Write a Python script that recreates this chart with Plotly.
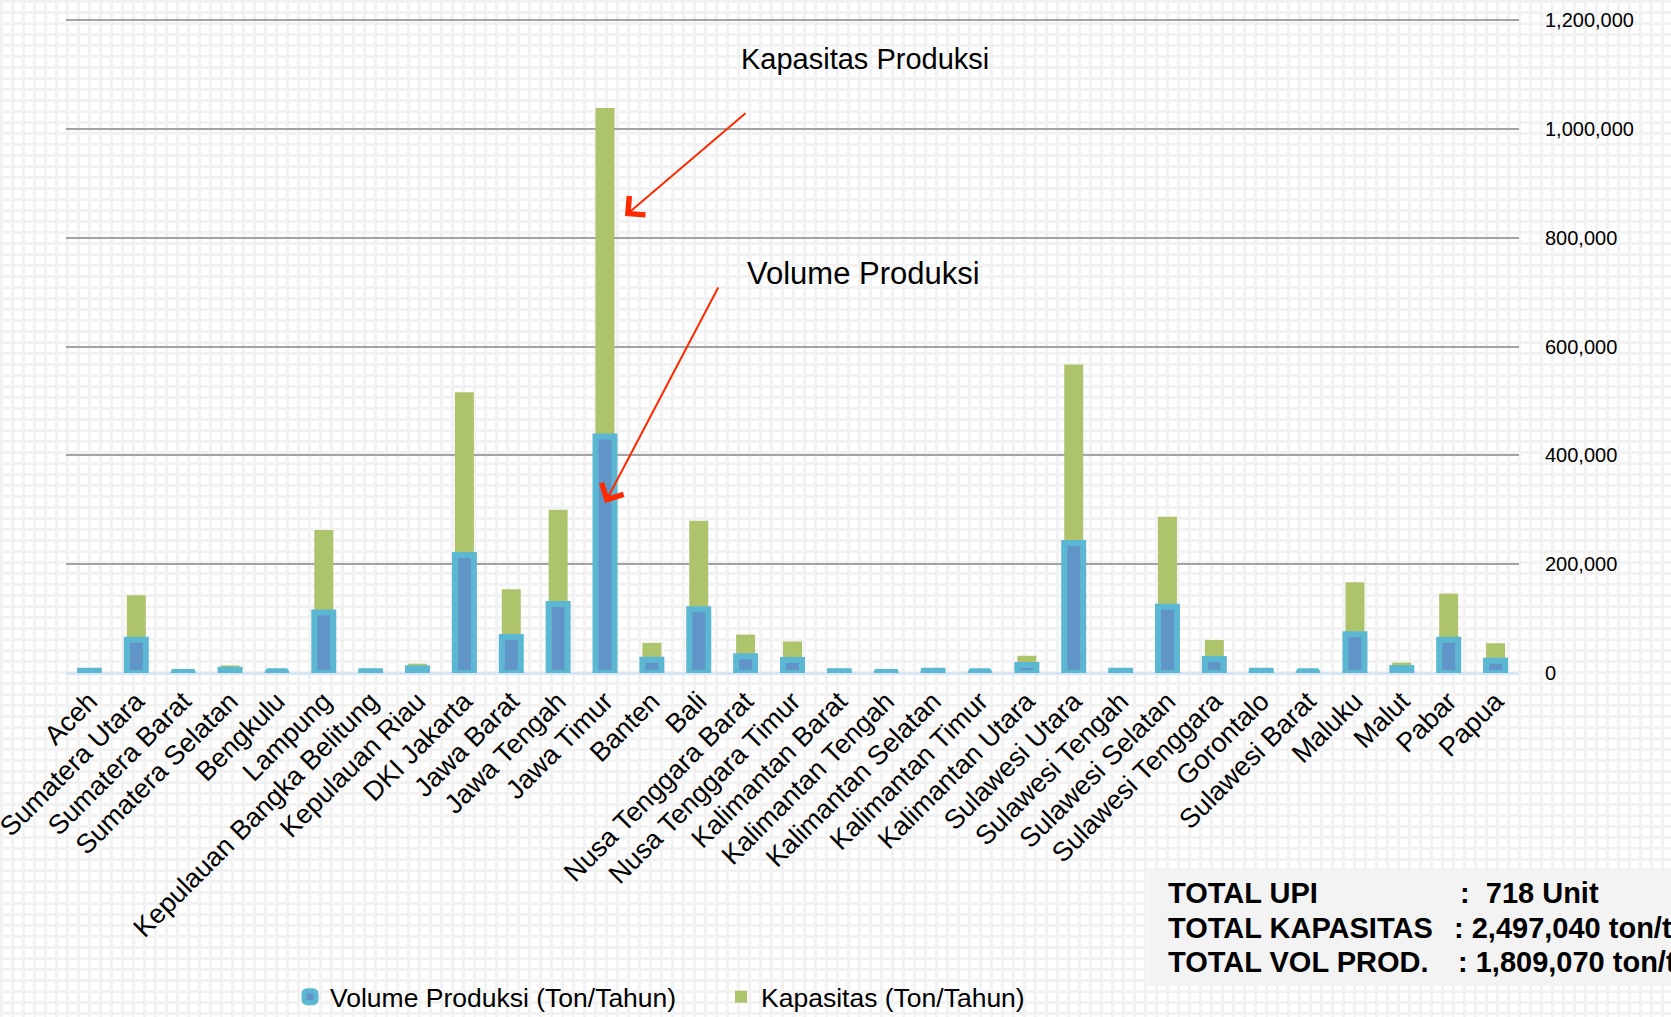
import base64
import plotly.graph_objects as go

provinces = [
    "Aceh", "Sumatera Utara", "Sumatera Barat", "Sumatera Selatan", "Bengkulu",
    "Lampung", "Kepulauan Bangka Belitung", "Kepulauan Riau", "DKI Jakarta",
    "Jawa Barat", "Jawa Tengah", "Jawa Timur", "Banten", "Bali",
    "Nusa Tenggara Barat", "Nusa Tenggara Timur", "Kalimantan Barat",
    "Kalimantan Tengah", "Kalimantan Selatan", "Kalimantan Timur",
    "Kalimantan Utara", "Sulawesi Utara", "Sulawesi Tengah", "Sulawesi Selatan",
    "Sulawesi Tenggara", "Gorontalo", "Sulawesi Barat", "Maluku", "Malut",
    "Pabar", "Papua",
]

volume = [4000, 61000, 2000, 6000, 3000, 111000, 3000, 8600, 217000, 66000,
          127000, 434500, 24500, 117000, 30600, 24000, 3000, 2000, 4000, 3000,
          14700, 239000, 4000, 122000, 25700, 4000, 3000, 71000, 9000, 61000,
          22700]

kapasitas = [5000, 82000, 3000, 8000, 1000, 152000, 5000, 8500, 299000, 88000,
             173000, 604000, 31000, 163000, 40000, 34000, 5000, 3000, 5000, 1000,
             17000, 328000, 5000, 165000, 35000, 5000, 1000, 96000, 10000, 85000,
             32000]

y_ticks = [0, 200000, 400000, 600000, 800000, 1000000, 1200000]

W, H = 1671, 1017
ML, MR, MT, MB = 66, 152, 18, 344
PW, PH = W - ML - MR, H - MT - MB

SANS = "Liberation Sans, Arial, sans-serif"


def px_x(x):
    return (x - ML) / PW


def px_y(y):
    return (H - MB - y) / PH


svg = (
    f"<svg xmlns='http://www.w3.org/2000/svg' width='{W}' height='{H}'>"
    "<defs><pattern id='p' width='11' height='11' patternUnits='userSpaceOnUse'>"
    "<rect width='11' height='11' fill='#ffffff'/>"
    "<rect x='0' y='0' width='3' height='11' fill='#f2f2f2'/>"
    "<rect x='0' y='0' width='11' height='3' fill='#f2f2f2'/>"
    "</pattern></defs>"
    "<rect width='100%' height='100%' fill='url(#p)'/></svg>"
)
svg_uri = "data:image/svg+xml;base64," + base64.b64encode(svg.encode()).decode()

fig = go.Figure()

fig.add_trace(go.Bar(
    x=provinces, y=kapasitas, base=volume,
    name="Kapasitas (Ton/Tahun)",
    marker=dict(color="#ADC46C", line=dict(width=0)),
    width=0.405, legendrank=2,
))

fig.add_trace(go.Bar(
    x=provinces, y=volume,
    name="Volume Produksi (Ton/Tahun)",
    marker=dict(color="#6195C8", line=dict(color="#5CB8D2", width=6), cornerradius=3),
    width=0.405, legendrank=1,
))

annotations = [
    dict(text="Kapasitas Produksi", x=px_x(865), y=px_y(59), xref="paper", yref="paper",
         xanchor="center", yanchor="middle",
         showarrow=False, font=dict(family=SANS, size=29, color="#000000")),
    dict(text="Volume Produksi", x=px_x(863), y=px_y(273), xref="paper", yref="paper",
         xanchor="center", yanchor="middle",
         showarrow=False, font=dict(family=SANS, size=31, color="#000000")),
    dict(text="", x=px_x(625), y=px_y(216), xref="paper", yref="paper",
         showarrow=True, ax=747 - 625, ay=112 - 216, arrowhead=4, arrowsize=2.4,
         arrowwidth=2, arrowcolor="#FF2A00", standoff=0),
    dict(text="", x=px_x(605), y=px_y(503), xref="paper", yref="paper",
         showarrow=True, ax=719 - 605, ay=286 - 503, arrowhead=4, arrowsize=2.4,
         arrowwidth=2, arrowcolor="#FF2A00", standoff=0),
]

box_font = dict(family=SANS, size=29, color="#000000")
box_lines = [
    ("TOTAL UPI", ":  718 Unit", 893, 1458),
    ("TOTAL KAPASITAS", ": 2,497,040 ton/thn", 928, 1452),
    ("TOTAL VOL PROD.", ": 1,809,070 ton/thn", 962, 1456),
]
for label, value, ypx, vx in box_lines:
    annotations.append(dict(text=f"<b>{label}</b>", x=px_x(1166), y=px_y(ypx),
                            xref="paper", yref="paper", xanchor="left", yanchor="middle",
                            showarrow=False, font=box_font))
    annotations.append(dict(text=f"<b>{value}</b>", x=px_x(vx), y=px_y(ypx),
                            xref="paper", yref="paper", xanchor="left", yanchor="middle",
                            showarrow=False, font=box_font))

fig.update_layout(
    width=W, height=H,
    margin=dict(l=ML, r=MR, t=MT, b=MB, pad=0, autoexpand=False),
    paper_bgcolor="#ffffff",
    plot_bgcolor="rgba(0,0,0,0)",
    barmode="overlay",
    showlegend=True,
    legend=dict(orientation="h", x=px_x(290), y=px_y(997), xanchor="left", yanchor="middle",
                font=dict(family=SANS, size=26.5, color="#000000"),
                bgcolor="rgba(0,0,0,0)", entrywidth=386, traceorder="normal"),
    images=[dict(source=svg_uri, xref="paper", yref="paper",
                 x=-ML / PW, y=1 + MT / PH, sizex=W / PW, sizey=H / PH,
                 xanchor="left", yanchor="top", sizing="stretch", layer="below")],
    shapes=[dict(type="rect", xref="paper", yref="paper",
                 x0=px_x(1148), x1=px_x(1700), y0=px_y(986), y1=px_y(868),
                 fillcolor="#F3F3F3", line=dict(width=0), layer="below")],
    annotations=annotations,
    xaxis=dict(
        type="category", tickangle=-45, showgrid=False, zeroline=False, showline=False,
        ticks="", tickfont=dict(family=SANS, size=27, color="#000000"),
        ticklabelstandoff=6, automargin=False,
    ),
    yaxis=dict(
        side="right", range=[0, 1204000], tickvals=y_ticks, tickformat=",",
        showgrid=True, gridcolor="#A3A3A3", gridwidth=2,
        zeroline=True, zerolinecolor="#D6E6F5", zerolinewidth=3, showline=False,
        ticks="", ticklabelstandoff=25, automargin=False,
        tickfont=dict(family=SANS, size=20, color="#000000"),
    ),
)

fig.write_html(
    "out.html",
    config={"displayModeBar": False},
    post_script="document.body.style.margin='0';document.body.style.overflow='hidden';",
)
